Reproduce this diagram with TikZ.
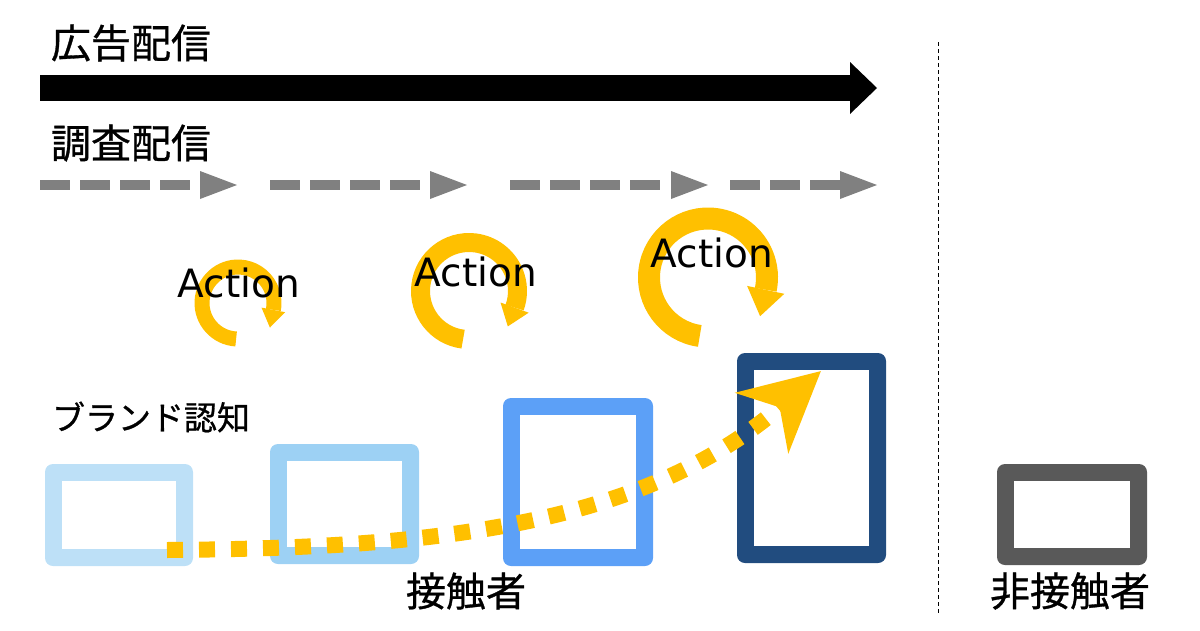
\documentclass[tikz,border=0pt]{standalone}
\usepackage{fontspec}
\setmainfont{DejaVu Sans}
\newfontfamily\jpfont[FakeBold=0.8]{Noto Sans CJK JP}
\usetikzlibrary{arrows.meta}
\definecolor{actyellow}{HTML}{FFC000}
\definecolor{surveygray}{HTML}{808080}
\definecolor{scrA}{HTML}{BDE0F7}
\definecolor{scrB}{HTML}{9DD1F4}
\definecolor{scrC}{HTML}{5CA0F7}
\definecolor{scrD}{HTML}{214C7F}
\definecolor{scrE}{HTML}{595959}
\tikzset{
	jptext/.style={inner sep=0pt, font=\jpfont\fontsize{40}{48}\selectfont},
	acttext/.style={inner sep=0pt, font=\fontsize{39}{46}\selectfont},
	screen/.style={rounded corners=8pt},
	surveydash/.style={surveygray, line width=10pt, dash pattern=on 30pt off 10pt},
	loopline/.style={actyellow},
	dotpath/.style={actyellow, line width=16pt, dash pattern=on 16pt off 16pt}
}

\begin{document}
\begin{tikzpicture}[x=1pt, y=-1pt]
			%%%%% START %%%%%
			\useasboundingbox (0, 0) rectangle (1200, 630);
			
			% ad delivery
			\node[jptext] (adlabel) at (131, 43) {広告配信};
			\fill[black] (40, 75) rectangle (851, 101);
			\fill[black] (850, 62) -- (877, 88) -- (850, 114) -- cycle;
			
			% survey delivery
			\node[jptext] (surveylabel) at (131, 143) {調査配信};
			\foreach \xs/\xm/\xe in {40/190/237, 270/420/467, 510/660/708, 730/840/877} {
				\draw[surveydash] (\xs, 185) -- (\xm, 185);
				\fill[surveygray] (\xe-37, 171) -- (\xe, 185) -- (\xe-37, 199) -- cycle;
			}
			
			% action loops
			\draw[loopline, line width=15pt] (238, 303) ++(93:36) arc[start angle=93, end angle=371, radius=36];
			\fill[loopline] (261.5, 307.6) -- (285.1, 312.2) -- (269.9, 327.6) -- cycle;
			
			\draw[loopline, line width=19pt] (469, 291) ++(97:48.5) arc[start angle=97, end angle=380, radius=48.5];
			\fill[loopline] (500.5, 302.5) -- (528.7, 312.7) -- (507.8, 326.4) -- cycle;
			
			\draw[loopline, line width=22pt] (708, 277.5) ++(98:59) arc[start angle=98, end angle=372, radius=59];
			\fill[loopline] (747.1, 285.9) -- (784.3, 293.8) -- (760.1, 316.2) -- cycle;
			
			\node[acttext] (act1) at (239, 283) {Action};
			\node[acttext] (act2) at (476, 272) {Action};
			\node[acttext] (act3) at (712, 253) {Action};
			
			% screens
			\node[jptext, font=\jpfont\fontsize{33}{40}\selectfont] (brandlabel) at (151, 417) {ブランド認知};
			\fill[screen, scrA] (45, 464) rectangle (193, 566);
			\fill[white] (62, 481) rectangle (176, 549);
			\fill[screen, scrB] (270, 444) rectangle (419, 564);
			\fill[white] (287, 461) rectangle (402, 547);
			\fill[screen, scrC] (503, 398) rectangle (653, 566);
			\fill[white] (520, 415) rectangle (636, 549);
			\fill[screen, scrD] (737, 353) rectangle (886, 563);
			\fill[white] (754, 370) rectangle (869, 546);
			\fill[screen, scrE] (997, 464) rectangle (1147, 565);
			\fill[white] (1014, 481) rectangle (1130, 548);
			
			\draw[dotpath, -{Stealth[length=78pt, width=79pt, inset=23pt]}] (167, 550) .. controls (420, 548) and (640, 530) .. (821, 371);
			
			\node[jptext] (contactlabel) at (466, 591) {接触者};
			
			% divider
			\draw[line width=1pt, dash pattern=on 4pt off 3pt] (938, 42) -- (938, 615);
			\node[jptext] (noncontactlabel) at (1070, 591) {非接触者};
			%%%%% END %%%%%
\end{tikzpicture}
\end{document}
